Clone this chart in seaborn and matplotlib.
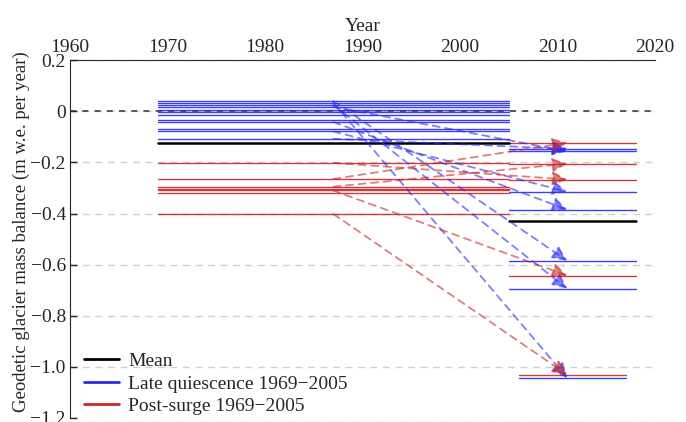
#!/usr/bin/env python3
import matplotlib
matplotlib.use("Agg")
import matplotlib.pyplot as plt
from matplotlib.lines import Line2D
import pandas as pd
import seaborn as sns

# 1969-2005 balances (left segments)
late_q_early = [0.040, 0.034, 0.025, 0.018, 0.005, -0.004, -0.013, -0.033,
                -0.042, -0.071, -0.079, -0.108]
post_s_early = [-0.202, -0.265, -0.295, -0.303, -0.310, -0.318, -0.402]
early_years = (1969, 2005)

# 2005-2018 balances (right segments)
late_q_recent = [-0.147, -0.157, -0.315, -0.385, -0.585, -0.694, -1.044]
post_s_recent = [-0.123, -0.205, -0.267, -0.643, -1.031]
late_q_recent_years = [(2005, 2018)] * 6 + [(2006, 2017)]
post_s_recent_years = [(2005, 2018)] * 4 + [(2006, 2017)]

mean_early = -0.125
mean_recent = -0.429

# arrows: (1969-2005 value, 2005-2018 value)
late_q_arrows = [(0.034, -1.044), (0.025, -0.694), (0.040, -0.585),
                 (-0.042, -0.385), (-0.079, -0.315), (0.018, -0.157),
                 (-0.108, -0.147)]
post_s_arrows = [(-0.265, -0.123), (-0.295, -0.205), (-0.202, -0.267),
                 (-0.310, -0.643), (-0.402, -1.031)]
arrow_years = (1987, 2011)

BLUE = "#2a2af0"
RED = "#c8282a"

rows = []
seg = 0
def add(group, value, years):
    global seg
    for yr in years:
        rows.append({"seg": seg, "group": group, "year": yr, "balance": value})
    seg += 1

for v in late_q_early:
    add("late", v, early_years)
for v in post_s_early:
    add("post", v, early_years)
for v, yrs in zip(late_q_recent, late_q_recent_years):
    add("late", v, yrs)
for v, yrs in zip(post_s_recent, post_s_recent_years):
    add("post", v, yrs)
df = pd.DataFrame(rows)
df_mean = pd.DataFrame({"seg": [0, 0, 1, 1],
                        "year": [early_years[0], early_years[1], 2005, 2018],
                        "balance": [mean_early, mean_early, mean_recent, mean_recent]})

sns.set_style("ticks")
plt.rcParams["font.family"] = ["Liberation Serif", "DejaVu Serif"]
FS = 14

fig = plt.figure(figsize=(6.86, 4.22), dpi=100)
ax = fig.add_axes([0.102, 0.0095, 0.853, 0.848])

ax.grid(axis="y", color="#d0d0d0", ls=(0, (5, 4)), lw=1)
ax.axhline(0, color="#333333", ls=(0, (4, 4)), lw=1.1, zorder=1)

sns.lineplot(data=df, x="year", y="balance", hue="group", units="seg",
             estimator=None, sort=False, palette={"late": BLUE, "post": RED},
             lw=1.0, alpha=0.9, legend=False, ax=ax)
sns.lineplot(data=df_mean, x="year", y="balance", units="seg", estimator=None,
             sort=False, color="black", lw=1.8, legend=False, ax=ax)

for arrows, c in ((late_q_arrows, BLUE), (post_s_arrows, RED)):
    for a, b in arrows:
        ax.annotate("", xy=(arrow_years[1], b), xytext=(arrow_years[0], a),
                    arrowprops=dict(arrowstyle="-|>,head_length=0.6,head_width=0.28",
                                    ls=(0, (4, 3)), lw=1.3, color=c, alpha=0.6,
                                    mutation_scale=15, shrinkA=0, shrinkB=0))

ax.set_xlim(1960, 2020)
ax.set_ylim(-1.2, 0.2)
ax.set_xticks([1960, 1970, 1980, 1990, 2000, 2010, 2020])
ax.set_yticks([0.2, 0, -0.2, -0.4, -0.6, -0.8, -1.0, -1.2])
ax.set_yticklabels(["0.2", "0", "\u22120.2", "\u22120.4", "\u22120.6",
                    "\u22120.8", "\u22121.0", "\u22121.2"])
ax.xaxis.tick_top()
ax.xaxis.set_label_position("top")
ax.tick_params(axis="both", direction="in", labelsize=FS, length=5, width=1, pad=3)
ax.set_xlabel("Year", fontsize=FS, labelpad=6)
ax.set_ylabel("Geodetic glacier mass balance (m w.e. per year)", fontsize=13.5)
ax.yaxis.set_label_coords(-0.068, 0.52)
sns.despine(ax=ax, top=False, right=True, bottom=True, left=False)

handles = [Line2D([], [], color="black", lw=2.0),
           Line2D([], [], color=BLUE, lw=2.0),
           Line2D([], [], color=RED, lw=2.0)]
ax.legend(handles, ["Mean", "Late quiescence 1969\u22122005", "Post-surge 1969\u22122005"],
          loc="lower left", bbox_to_anchor=(0.0, -0.03), frameon=False,
          fontsize=FS, handlelength=1.8, handletextpad=0.5, labelspacing=0.25,
          borderaxespad=0.3)

fig.savefig("out.png", dpi=100)
